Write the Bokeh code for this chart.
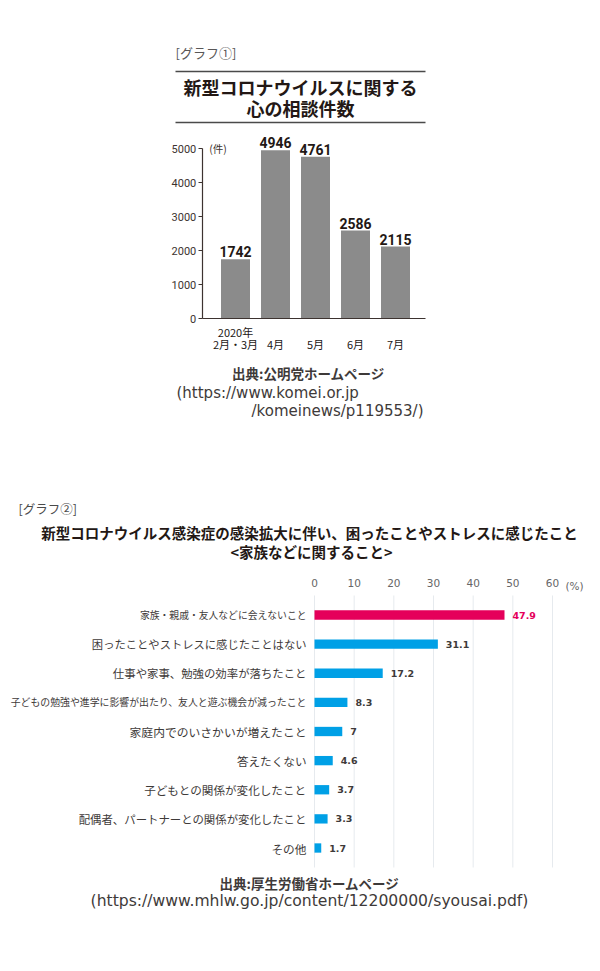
from bokeh.plotting import figure
from bokeh.models import ColumnDataSource, LabelSet, Label, Range1d, FixedTicker, BoxAnnotation
from bokeh.core.properties import value
from bokeh.layouts import column
from bokeh.embed import file_html
from bokeh.resources import INLINE

# ---------------- data: chart 1 ----------------
chart1_tag = "[グラフ①]"
chart1_title = ["新型コロナウイルスに関する", "心の相談件数"]
months = ["2月・3月", "4月", "5月", "6月", "7月"]
year_label = "2020年"
counts = [1742, 4946, 4761, 2586, 2115]
count_ticks = [0, 1000, 2000, 3000, 4000, 5000]
count_unit = "(件)"
chart1_source = ["出典:公明党ホームページ", "(https://www.komei.or.jp", "/komeinews/p119553/)"]

# ---------------- data: chart 2 ----------------
chart2_tag = "[グラフ②]"
chart2_title = ["新型コロナウイルス感染症の感染拡大に伴い、困ったことやストレスに感じたこと",
                "<家族などに関すること>"]
reasons = [
    "家族・親戚・友人などに会えないこと",
    "困ったことやストレスに感じたことはない",
    "仕事や家事、勉強の効率が落ちたこと",
    "子どもの勉強や進学に影響が出たり、友人と遊ぶ機会が減ったこと",
    "家庭内でのいさかいが増えたこと",
    "答えたくない",
    "子どもとの関係が変化したこと",
    "配偶者、パートナーとの関係が変化したこと",
    "その他",
]
percents = [47.9, 31.1, 17.2, 8.3, 7, 4.6, 3.7, 3.3, 1.7]
pct_ticks = [0, 10, 20, 30, 40, 50, 60]
pct_unit = "(%)"
chart2_source = ["出典:厚生労働省ホームページ",
                 "(https://www.mhlw.go.jp/content/12200000/syousai.pdf)"]

# ---------------- styles / layout ----------------
JP = "Noto Sans CJK JP"
LAT = "DejaVu Sans"
NUM = "Roboto"
DARK = "#231815"
AXIS = "#3d3330"
BAR1 = "#8b8b8b"
HILITE = "#e5005a"
BLUE = "#00a0e6"
label_sizes = ["9.8px", "11.3px", "11.4px", "9.9px", "11.8px", "11.6px", "11.6px", "11.4px", "11.7px"]

W = 600
H1 = 480
H2 = 490
# chart 1 geometry (pixels): first bar centre, bar pitch, zero line, px per count
C1_X0, C1_DX, C1_Y0, C1_DY = 235.0, 40.0, 318.0, 34.0 / 1000
# chart 2 geometry (pixels, relative to figure 2 top)
C2_X0, C2_DX, C2_Y0, C2_DY = 314.0, 238.0 / 60, 134.5, 29.125


def slabel(p, H, x, y, text, size, bold=False, align="left", color=DARK, top=0, font=JP):
    p.add_layout(Label(x=x, y=H - (y - top), x_units="screen", y_units="screen", text=text,
                       text_align=align, text_baseline="middle", text_font=font,
                       text_font_size=size, text_font_style="bold" if bold else "normal",
                       text_color=color))


# ================= figure 1 =================
p1 = figure(width=W, height=H1, output_backend="svg", toolbar_location=None,
            x_range=Range1d(-C1_X0 / C1_DX, (W - C1_X0) / C1_DX),
            y_range=Range1d(-(H1 - C1_Y0) / C1_DY, C1_Y0 / C1_DY),
            min_border=0)
p1.outline_line_color = None
p1.grid.visible = False

xs = list(range(len(counts)))
axis_x = -0.83
src1 = ColumnDataSource(dict(x=xs, count=counts, txt=[str(c) for c in counts], month=months))
p1.vbar(x="x", top="count", width=0.725, source=src1, fill_color=BAR1, line_color=None)

ya = p1.yaxis[0]
ya.fixed_location = axis_x
ya.bounds = (count_ticks[0], count_ticks[-1])
ya.ticker = FixedTicker(ticks=count_ticks)
ya.axis_line_color = AXIS
ya.axis_line_width = 1.2
ya.major_tick_line_color = AXIS
ya.major_tick_out = 4
ya.major_tick_in = 0
ya.minor_tick_line_color = None
ya.major_label_text_font = NUM
ya.major_label_text_font_size = "11px"
ya.major_label_text_color = AXIS
ya.major_label_standoff = 2

xa = p1.xaxis[0]
xa.fixed_location = 0
xa.bounds = (axis_x, xs[-1] + 0.74)
xa.ticker = FixedTicker(ticks=[])
xa.axis_line_color = AXIS
xa.axis_line_width = 1.2
xa.major_tick_line_color = None
xa.minor_tick_line_color = None

p1.add_layout(LabelSet(x="x", y="count", text="txt", source=src1, text_align="center",
                       text_baseline="alphabetic", y_offset=2, text_font=value(NUM),
                       text_font_style="bold", text_font_size="14px", text_color=DARK))
p1.add_layout(LabelSet(x="x", y=0, text="month", source=src1, text_align="center",
                       text_baseline="middle", y_offset=-25, text_font=value(JP),
                       text_font_size="11px", text_color=DARK))
p1.add_layout(Label(x=0, y=0, text=year_label, text_align="center", text_baseline="middle",
                    y_offset=-13, text_font=JP, text_font_size="11px", text_color=DARK))
p1.add_layout(Label(x=axis_x, y=count_ticks[-1], text=count_unit, text_align="left",
                    text_baseline="middle", x_offset=7, text_font=JP, text_font_size="10.5px",
                    text_color=AXIS))

slabel(p1, H1, 175, 52, chart1_tag, "13px", color="#595757")
for yy in (71, 122):
    p1.add_layout(BoxAnnotation(left=175, right=425, bottom=H1 - yy - 0.7, top=H1 - yy + 0.7,
                                left_units="screen", right_units="screen",
                                bottom_units="screen", top_units="screen",
                                fill_color="#4a4a4a", fill_alpha=1, line_color=None))
slabel(p1, H1, 300, 86, chart1_title[0], "18px", bold=True, align="center")
slabel(p1, H1, 300, 107, chart1_title[1], "18px", bold=True, align="center")
slabel(p1, H1, 308, 372, chart1_source[0], "13.5px", bold=True, align="center", color="#3e3a39")
slabel(p1, H1, 176, 392, chart1_source[1], "15px", align="left", color="#3e3a39", font=LAT)
slabel(p1, H1, 423, 410, chart1_source[2], "15px", align="right", color="#3e3a39", font=LAT)

# ================= figure 2 =================
n = len(reasons)
ypos = list(range(n))
colors = [HILITE if i == 0 else BLUE for i in range(n)]
txt_colors = [HILITE if i == 0 else "#3e3a39" for i in range(n)]
src2 = ColumnDataSource(dict(y=ypos, pct=percents, txt=[f"{v:g}" for v in percents],
                             reason=reasons, color=colors, tcolor=txt_colors, size=label_sizes))

p2 = figure(width=W, height=H2, output_backend="svg", toolbar_location=None,
            x_range=Range1d(-C2_X0 / C2_DX, (W - C2_X0) / C2_DX),
            y_range=Range1d((H2 - C2_Y0) / C2_DY, -C2_Y0 / C2_DY),
            x_axis_location="above", min_border=0)
p2.outline_line_color = None
p2.grid.visible = False
p2.yaxis.visible = False

grid_top, grid_bot = -0.67, n - 1 + 0.67
p2.segment(x0=pct_ticks, x1=pct_ticks, y0=grid_top, y1=grid_bot, line_color="#e6eaee", line_width=1)
p2.hbar(y="y", right="pct", left=0, height=0.32, source=src2, fill_color="color", line_color=None)

xa2 = p2.xaxis[0]
xa2.fixed_location = grid_top
xa2.ticker = FixedTicker(ticks=pct_ticks)
xa2.axis_line_color = None
xa2.major_tick_line_color = None
xa2.minor_tick_line_color = None
xa2.major_label_text_font = "DejaVu Sans"
xa2.major_label_text_font_size = "10.5px"
xa2.major_label_text_color = "#666666"
xa2.major_label_standoff = 2

p2.add_layout(Label(x=pct_ticks[-1], y=grid_top, text=pct_unit, text_align="left",
                    text_baseline="middle", x_offset=13, y_offset=9, text_font="DejaVu Sans",
                    text_font_size="10.5px", text_color="#666666"))
p2.add_layout(LabelSet(x=0, y="y", text="reason", source=src2, text_align="right",
                       text_baseline="middle", x_offset=-8, text_font=value(JP),
                       text_font_size="size", text_color="#3e3a39"))
p2.add_layout(LabelSet(x="pct", y="y", text="txt", source=src2, text_align="left",
                       text_baseline="middle", x_offset=8, text_font=value("DejaVu Sans"),
                       text_font_style="bold", text_font_size="9.5px", text_color="tcolor"))

T2 = H1
slabel(p2, H2, 18, 508, chart2_tag, "12.5px", color="#4a4a4a", top=T2)
slabel(p2, H2, 309, 532, chart2_title[0], "14.5px", bold=True, align="center", top=T2)
slabel(p2, H2, 311, 551, chart2_title[1], "14.5px", bold=True, align="center", top=T2)
slabel(p2, H2, 309, 882, chart2_source[0], "13.5px", bold=True, align="center", color="#3e3a39", top=T2)
slabel(p2, H2, 309, 900, chart2_source[1], "15.6px", align="center", color="#3e3a39", top=T2, font=LAT)

layout = column(p1, p2, spacing=0)
open("out.html", "w").write(file_html(layout, INLINE))
